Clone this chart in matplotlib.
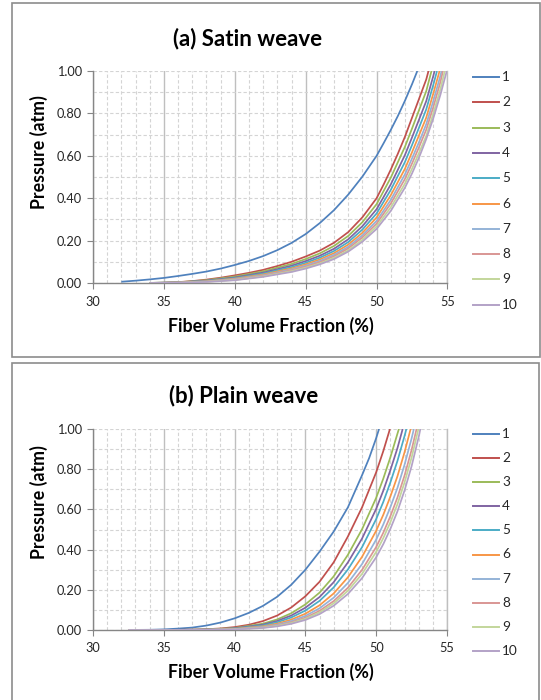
import matplotlib
matplotlib.use('Agg')
import matplotlib.pyplot as plt
import numpy as np
from matplotlib.lines import Line2D
from matplotlib.patches import Rectangle

plt.rcParams['font.family'] = ['Lato', 'DejaVu Sans']

W, H = 541, 700

series_labels = ['1', '2', '3', '4', '5', '6', '7', '8', '9', '10']
series_colors = ['#4F81BD', '#C0504D', '#9BBB59', '#8064A2', '#4BACC6',
                 '#F79646', '#95B3D7', '#D99694', '#C3D69B', '#B3A2C7']

x_ticks = [30, 35, 40, 45, 50, 55]
y_ticks = [0.0, 0.2, 0.4, 0.6, 0.8, 1.0]
y_tick_labels = ['0.00', '0.20', '0.40', '0.60', '0.80', '1.00']

# ---------------- (a) Satin weave ----------------
satin_vf_1 = [32, 33, 34, 35, 36, 37, 38, 39, 40, 41, 42, 43, 44, 45, 46, 47, 48, 49, 50, 50.5, 51, 51.5, 52, 52.5, 52.87]
satin_p_1 = [0.006, 0.011, 0.017, 0.024, 0.033, 0.043, 0.054, 0.068, 0.085, 0.104, 0.127, 0.155, 0.189, 0.231, 0.283, 0.344, 0.417, 0.502, 0.60, 0.66, 0.722, 0.788, 0.86, 0.938, 1.0]
satin_vf_2 = [34, 35, 36, 37, 38, 39, 40, 41, 42, 43, 44, 45, 46, 47, 48, 49, 50, 50.5, 51, 51.5, 52, 52.5, 53, 53.5, 53.66]
satin_p_2 = [0.0005, 0.001, 0.004, 0.009, 0.016, 0.025, 0.036, 0.048, 0.062, 0.08, 0.10, 0.125, 0.153, 0.19, 0.24, 0.31, 0.40, 0.465, 0.535, 0.61, 0.69, 0.78, 0.87, 0.96, 1.0]
satin_vf_3 = [34, 36, 38, 40, 42, 44, 45, 46, 47, 48, 49, 50, 51, 52, 52.5, 53, 53.5, 53.87]
satin_p_3 = [0.0004, 0.0032, 0.0133, 0.0305, 0.0547, 0.0899, 0.113, 0.140, 0.175, 0.222, 0.287, 0.372, 0.497, 0.643, 0.729, 0.817, 0.905, 1.0]
satin_vf_4 = [34, 36, 38, 40, 42, 44, 45, 46, 47, 48, 49, 50, 51, 52, 52.5, 53, 53.5, 54, 54.09]
satin_p_4 = [0.0003, 0.0027, 0.0112, 0.0262, 0.049, 0.0817, 0.1035, 0.1287, 0.1617, 0.206, 0.268, 0.348, 0.465, 0.604, 0.687, 0.772, 0.858, 0.977, 1.0]
satin_vf_5 = [34, 36, 38, 40, 42, 44, 45, 46, 47, 48, 49, 50, 51, 52, 52.5, 53, 53.5, 54, 54.26]
satin_p_5 = [0.0003, 0.00225, 0.0096, 0.0229, 0.0443, 0.075, 0.0954, 0.1195, 0.151, 0.193, 0.252, 0.328, 0.439, 0.571, 0.651, 0.734, 0.819, 0.935, 1.0]
satin_vf_6 = [34, 36, 38, 40, 42, 44, 45, 46, 47, 48, 49, 50, 51, 52, 52.5, 53, 53.5, 54, 54.44]
satin_p_6 = [0.0002, 0.0019, 0.0083, 0.0201, 0.0401, 0.0689, 0.0881, 0.111, 0.141, 0.181, 0.237, 0.309, 0.414, 0.539, 0.617, 0.698, 0.780, 0.894, 1.0]
satin_vf_7 = [34, 36, 38, 40, 42, 44, 45, 46, 47, 48, 49, 50, 51, 52, 52.5, 53, 53.5, 54, 54.5, 54.58]
satin_p_7 = [0.0002, 0.0016, 0.0072, 0.0178, 0.0367, 0.0639, 0.082, 0.104, 0.133, 0.171, 0.225, 0.293, 0.392, 0.513, 0.588, 0.666, 0.749, 0.859, 0.978, 1.0]
satin_vf_8 = [34, 36, 38, 40, 42, 44, 45, 46, 47, 48, 49, 50, 51, 52, 52.5, 53, 53.5, 54, 54.5, 54.68]
satin_p_8 = [0.0001, 0.0014, 0.0064, 0.0161, 0.034, 0.0598, 0.0772, 0.0984, 0.126, 0.163, 0.215, 0.280, 0.375, 0.491, 0.564, 0.642, 0.723, 0.830, 0.948, 1.0]
satin_vf_9 = [34, 36, 38, 40, 42, 44, 45, 46, 47, 48, 49, 50, 51, 52, 52.5, 53, 53.5, 54, 54.5, 54.81]
satin_p_9 = [0.0001, 0.0012, 0.0057, 0.0144, 0.0313, 0.0557, 0.0722, 0.0924, 0.119, 0.154, 0.204, 0.267, 0.357, 0.469, 0.539, 0.615, 0.694, 0.799, 0.915, 1.0]
satin_vf_10 = [34, 36, 38, 40, 42, 44, 45, 46, 47, 48, 49, 50, 51, 52, 52.5, 53, 53.5, 54, 54.5, 54.95]
satin_p_10 = [0.0001, 0.001, 0.005, 0.013, 0.029, 0.052, 0.068, 0.088, 0.113, 0.148, 0.195, 0.255, 0.34, 0.45, 0.517, 0.593, 0.679, 0.777, 0.888, 1.0]

# ---------------- (b) Plain weave ----------------
plain_vf_1 = [32.5, 33, 34, 35, 36, 37, 38, 39, 40, 41, 42, 43, 44, 45, 46, 47, 48, 49, 49.5, 50, 50.2]
plain_p_1 = [0.0, 0.0005, 0.001, 0.003, 0.007, 0.012, 0.022, 0.037, 0.058, 0.085, 0.12, 0.165, 0.225, 0.30, 0.39, 0.49, 0.61, 0.77, 0.855, 0.955, 1.0]
plain_vf_2 = [32.5, 34, 35, 36, 37, 38, 39, 40, 41, 42, 43, 44, 45, 46, 47, 48, 49, 50, 50.5, 50.97]
plain_p_2 = [0.0, 0.0001, 0.0003, 0.0008, 0.0018, 0.0038, 0.0076, 0.0145, 0.0261, 0.0443, 0.0718, 0.112, 0.168, 0.24, 0.337, 0.465, 0.61, 0.785, 0.89, 1.0]
plain_vf_3 = [32.5, 36, 38, 40, 42, 43, 44, 45, 46, 47, 48, 49, 50, 50.5, 51, 51.6]
plain_p_3 = [0.0, 0.0005, 0.0025, 0.0099, 0.0316, 0.0524, 0.0834, 0.1275, 0.186, 0.267, 0.374, 0.501, 0.658, 0.753, 0.859, 1.0]
plain_vf_4 = [32.5, 36, 38, 40, 42, 43, 44, 45, 46, 47, 48, 49, 50, 50.5, 51, 51.5, 51.87]
plain_p_4 = [0.0, 0.0004, 0.002, 0.0082, 0.0268, 0.0448, 0.072, 0.111, 0.164, 0.238, 0.336, 0.455, 0.603, 0.693, 0.795, 0.905, 1.0]
plain_vf_5 = [32.5, 36, 38, 40, 42, 43, 44, 45, 46, 47, 48, 49, 50, 50.5, 51, 51.5, 52, 52.13]
plain_p_5 = [0.0, 0.0003, 0.0016, 0.0068, 0.0226, 0.0383, 0.0622, 0.0968, 0.145, 0.212, 0.301, 0.412, 0.552, 0.637, 0.734, 0.841, 0.965, 1.0]
plain_vf_6 = [32.5, 36, 38, 40, 42, 43, 44, 45, 46, 47, 48, 49, 50, 50.5, 51, 51.5, 52, 52.43]
plain_p_6 = [0.0, 0.0002, 0.0013, 0.0053, 0.0183, 0.0313, 0.0515, 0.0811, 0.123, 0.182, 0.262, 0.364, 0.494, 0.573, 0.664, 0.765, 0.884, 1.0]
plain_vf_7 = [32.5, 36, 38, 40, 42, 43, 44, 45, 46, 47, 48, 49, 50, 50.5, 51, 51.5, 52, 52.5, 52.66]
plain_p_7 = [0.0, 0.0002, 0.001, 0.0043, 0.0153, 0.0265, 0.0441, 0.0702, 0.108, 0.161, 0.234, 0.328, 0.450, 0.525, 0.611, 0.707, 0.822, 0.953, 1.0]
plain_vf_8 = [32.5, 36, 38, 40, 42, 43, 44, 45, 46, 47, 48, 49, 50, 50.5, 51, 51.5, 52, 52.5, 52.85]
plain_p_8 = [0.0, 0.0001, 0.0008, 0.0036, 0.013, 0.0228, 0.0382, 0.0615, 0.0955, 0.144, 0.210, 0.299, 0.413, 0.484, 0.566, 0.659, 0.768, 0.896, 1.0]
plain_vf_9 = [32.5, 36, 38, 40, 42, 43, 44, 45, 46, 47, 48, 49, 50, 50.5, 51, 51.5, 52, 52.5, 52.98]
plain_p_9 = [0.0, 0.0001, 0.0007, 0.0032, 0.0116, 0.0205, 0.0346, 0.056, 0.0876, 0.133, 0.195, 0.279, 0.389, 0.457, 0.536, 0.626, 0.734, 0.858, 1.0]
plain_vf_10 = [32.5, 36, 38, 40, 42, 43, 44, 45, 46, 47, 48, 49, 50, 50.5, 51, 51.5, 52, 52.5, 53, 53.12]
plain_p_10 = [0.0, 0.0001, 0.0006, 0.0027, 0.0101, 0.018, 0.0307, 0.05, 0.079, 0.121, 0.179, 0.258, 0.362, 0.427, 0.503, 0.59, 0.694, 0.815, 0.96, 1.0]

satin_series = [(satin_vf_1, satin_p_1), (satin_vf_2, satin_p_2), (satin_vf_3, satin_p_3),
                (satin_vf_4, satin_p_4), (satin_vf_5, satin_p_5), (satin_vf_6, satin_p_6),
                (satin_vf_7, satin_p_7), (satin_vf_8, satin_p_8), (satin_vf_9, satin_p_9),
                (satin_vf_10, satin_p_10)]
plain_series = [(plain_vf_1, plain_p_1), (plain_vf_2, plain_p_2), (plain_vf_3, plain_p_3),
                (plain_vf_4, plain_p_4), (plain_vf_5, plain_p_5), (plain_vf_6, plain_p_6),
                (plain_vf_7, plain_p_7), (plain_vf_8, plain_p_8), (plain_vf_9, plain_p_9),
                (plain_vf_10, plain_p_10)]

fig = plt.figure(figsize=(W / 100, H / 100), dpi=100)
fig.patch.set_facecolor('white')


def fx(px):
    return px / W


def fy(py):
    return 1 - py / H


# panel frames
fig.add_artist(Rectangle((fx(12), fy(357)), fx(540) - fx(12), fy(3) - fy(357),
                         transform=fig.transFigure, fill=False, edgecolor='#8C8C8C', lw=1.2))
fig.add_artist(Rectangle((fx(12), fy(705)), fx(539) - fx(12), fy(363) - fy(705),
                         transform=fig.transFigure, fill=False, edgecolor='#8C8C8C', lw=1.2,
                         clip_on=False))


def make_panel(series, ax_box, title, title_xy, xlabel_xy, ylabel_xy, leg_top, leg_dy):
    left, top, right, bottom = ax_box
    ax = fig.add_axes([fx(left), fy(bottom), fx(right) - fx(left), fy(top) - fy(bottom)])
    for (vf, p), c in zip(series, series_colors):
        ax.plot(vf, p, color=c, lw=1.25, solid_capstyle='butt', clip_on=True, zorder=3)
    ax.set_xlim(30, 55)
    ax.set_ylim(0, 1.0)
    ax.set_xticks(x_ticks)
    ax.set_xticks(np.arange(30, 56, 1), minor=True)
    ax.set_yticks(y_ticks)
    ax.set_yticklabels(y_tick_labels)
    ax.set_yticks(np.arange(0, 1.01, 0.1), minor=True)
    ax.grid(which='major', axis='x', color='#BFBFBF', linestyle='-', lw=1.0, zorder=0)
    ax.grid(which='minor', axis='x', color='#D4D4D4', linestyle=(0, (3, 2)), lw=0.8, zorder=0)
    ax.grid(which='both', axis='y', color='#D4D4D4', linestyle=(0, (3, 2)), lw=0.8, zorder=0)
    ax.set_axisbelow(True)
    ax.tick_params(which='minor', length=0)
    ax.tick_params(which='major', length=4, width=0.8, color='#868686',
                   labelsize=9.2, labelcolor='#262626', direction='out')
    ax.tick_params(axis='x', pad=5)
    ax.tick_params(axis='y', pad=4)
    ax.spines['top'].set_visible(False)
    ax.spines['right'].set_color('#BFBFBF')
    ax.spines['left'].set_color('#868686')
    ax.spines['bottom'].set_color('#868686')
    for s in ['right', 'left', 'bottom']:
        ax.spines[s].set_linewidth(1.0)

    fig.text(fx(title_xy[0]), fy(title_xy[1]), title, ha='center', va='center',
             fontsize=16, fontweight='bold', color='#000000')
    fig.text(fx(xlabel_xy[0]), fy(xlabel_xy[1]), 'Fiber Volume Fraction (%)', ha='center',
             va='center', fontsize=12.8, fontweight='bold', color='#000000')
    fig.text(fx(ylabel_xy[0]), fy(ylabel_xy[1]), 'Pressure (atm)', ha='center',
             va='center', fontsize=12.8, fontweight='bold', color='#000000', rotation=90)

    for i, (lab, c) in enumerate(zip(series_labels, series_colors)):
        yy = leg_top + i * leg_dy
        fig.add_artist(Line2D([fx(473), fx(499)], [fy(yy), fy(yy)], color=c, lw=1.4,
                              transform=fig.transFigure))
        fig.text(fx(502), fy(yy), lab, ha='left', va='center', fontsize=9.8, color='#262626')
    return ax


make_panel(satin_series, (93, 71, 447.5, 283), '(a) Satin weave', (248, 39), (271, 326),
           (39, 152), 77, 25.3)
make_panel(plain_series, (93, 429, 447, 630), '(b) Plain weave', (244, 396), (271, 672),
           (39, 502), 434, 24.1)

fig.savefig('out.png', dpi=100, facecolor='white')
